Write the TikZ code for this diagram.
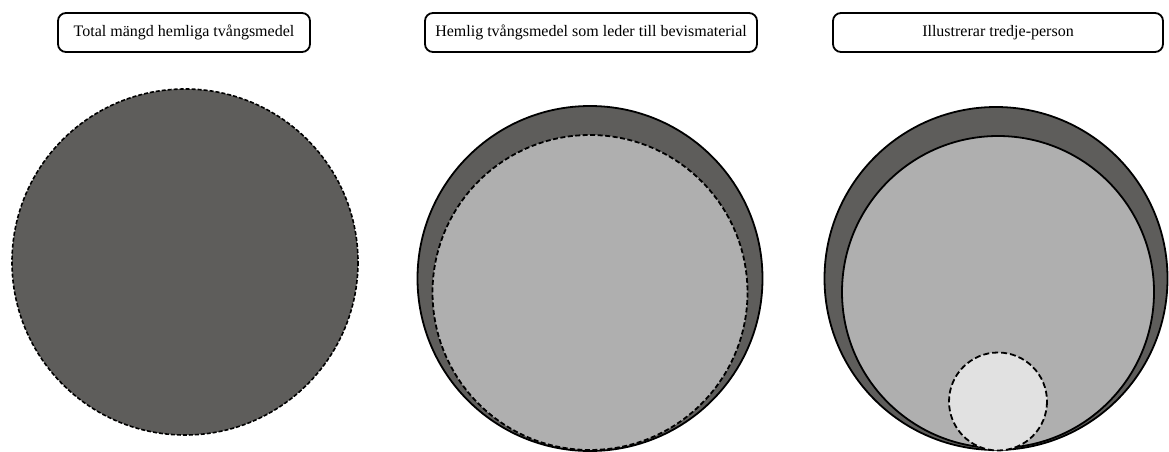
\documentclass[tikz,border=0pt]{standalone}
\usepackage{fontspec}
\setmainfont{Liberation Serif}
\begin{document}
\begin{tikzpicture}[x=1pt,y=-1pt,
  lbl/.style={draw=black, line width=1.8pt, rounded corners=8pt, fill=white, font=\fontsize{16}{18}\selectfont, inner sep=0pt, anchor=center},
  dk/.style={fill=dkgray, draw=black, line width=1.8pt},
  lt/.style={fill=ltgray, draw=black, line width=1.8pt},
  dsh/.style={dash pattern=on 5pt off 2.5pt}]
\definecolor{dkgray}{RGB}{94,93,91}
\definecolor{ltgray}{RGB}{175,175,175}
\definecolor{xltgray}{RGB}{225,225,225}
\useasboundingbox (0,0) rectangle (1169,452);
% labels
\node[lbl, minimum width=252pt, minimum height=39pt] (l1) at (184,32.5) {Total mängd hemliga tvångsmedel};
\node[lbl, minimum width=332pt, minimum height=39pt] (l2) at (591,32.5) {Hemlig tvångsmedel som leder till bevismaterial};
\node[lbl, minimum width=330pt, minimum height=39pt] (l3) at (998,32.5) {Illustrerar tredje-person};
% circle 1
\draw[fill=dkgray, draw=black, line width=1.6pt, dash pattern=on 4pt off 2pt] (185,262) circle[radius=173];
% circle 2
\draw[dk] (590,278.5) circle[radius=172.5];
\draw[lt, dsh] (590,292.5) circle[radius=157.5];
% circle 3
\draw[dk] (996,278.5) circle[radius=171.5];
\draw[lt] (998,292) circle[radius=156];
\draw[fill=xltgray, draw=black, line width=1.8pt, dash pattern=on 6pt off 3pt] (998,401.5) circle[radius=49];
\end{tikzpicture}
\end{document}
